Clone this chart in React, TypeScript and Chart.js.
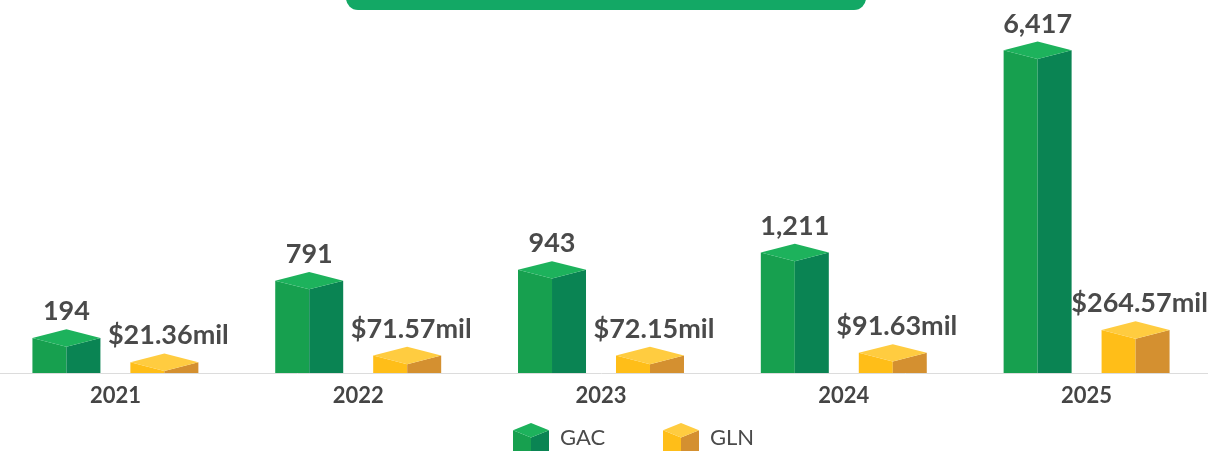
import React, { useEffect, useRef } from "react";
import { Chart, LinearScale, registerables } from "chart.js";

// ---- data ----
const categories = ["2021", "2022", "2023", "2024", "2025"];
const seriesNames = ["GAC", "GLN"];
const gacValues = [194, 791, 943, 1211, 6417];
const glnValues = [21.36, 71.57, 72.15, 91.63, 264.57];

// ---- styles ----
const palettes = [
  { top: "#1db25c", left: "#17a04f", right: "#0a8453" },
  { top: "#ffcc40", left: "#ffbe18", right: "#d49030" },
];
const labelColor = "#4a4a4a";
const fontFamily = "Lato, 'Open Sans', sans-serif";

const formatters = [
  (v: number) => v.toLocaleString("en-US"),
  (v: number) => "$" + v.toFixed(2) + "mil",
];

// Power (v^p) value scale built on top of Chart.js' linear scale
class PowerScale extends LinearScale {
  static id = "power";
  _f(v: number) {
    const p = (this as any).options.exponent ?? 1;
    return Math.sign(v) * Math.pow(Math.abs(v), p);
  }
  getPixelForValue(value: number) {
    if (value === null || value === undefined) return NaN;
    const a = this._f((this as any).min);
    const b = this._f((this as any).max);
    return (this as any).getPixelForDecimal((this._f(value) - a) / (b - a));
  }
  getValueForPixel(pixel: number) {
    const p = (this as any).options.exponent ?? 1;
    const a = this._f((this as any).min);
    const b = this._f((this as any).max);
    const t = a + (this as any).getDecimalForPixel(pixel) * (b - a);
    return Math.sign(t) * Math.pow(Math.abs(t), 1 / p);
  }
}

Chart.register(...registerables);
Chart.register(PowerScale as any);

const gacScaleMin = 20.25;
const glnScaleMin = -60.1;

const cubePlugin = {
  id: "cubes",
  afterDatasetsDraw(chart: any) {
    const ctx = chart.ctx;
    chart.data.datasets.forEach((ds: any, di: number) => {
      const meta = chart.getDatasetMeta(di);
      const pal = palettes[di];
      meta.data.forEach((el: any, i: number) => {
        const { x, y, base, width } = el.getProps(["x", "y", "base", "width"], true);
        const x0 = x - width / 2;
        const x1 = x + width / 2;
        const d = width * 0.128;
        ctx.save();
        // left face
        ctx.fillStyle = pal.left;
        ctx.beginPath();
        ctx.moveTo(x0, y);
        ctx.lineTo(x, y + d);
        ctx.lineTo(x, base);
        ctx.lineTo(x0, base);
        ctx.closePath();
        ctx.fill();
        // right face
        ctx.fillStyle = pal.right;
        ctx.beginPath();
        ctx.moveTo(x, y + d);
        ctx.lineTo(x1, y);
        ctx.lineTo(x1, base);
        ctx.lineTo(x, base);
        ctx.closePath();
        ctx.fill();
        // top face
        ctx.fillStyle = pal.top;
        ctx.beginPath();
        ctx.moveTo(x0, y);
        ctx.lineTo(x, y - d);
        ctx.lineTo(x1, y);
        ctx.lineTo(x, y + d);
        ctx.closePath();
        ctx.fill();
        // value label
        ctx.fillStyle = labelColor;
        ctx.font = `bold 27px ${fontFamily}`;
        ctx.textAlign = "center";
        ctx.textBaseline = "alphabetic";
        ctx.fillText(formatters[di](ds.data[i]), x + di * 4, y - d - 9);
        ctx.restore();
      });
    });
  },
};

function CubeIcon({ pal }: { pal: { top: string; left: string; right: string } }) {
  return (
    <svg width={36} height={28} viewBox="0 0 36 28" style={{ display: "block" }}>
      <polygon points="0,7.3 18,14.6 18,28 0,28" fill={pal.left} />
      <polygon points="18,14.6 36,7.3 36,28 18,28" fill={pal.right} />
      <polygon points="0,7.3 18,0 36,7.3 18,14.6" fill={pal.top} />
    </svg>
  );
}

export default function App() {
  const canvasRef = useRef<HTMLCanvasElement>(null);

  useEffect(() => {
    const chart = new Chart(canvasRef.current!, {
      type: "bar",
      data: {
        labels: categories,
        datasets: [
          {
            label: seriesNames[0],
            data: gacValues,
            yAxisID: "y",
            base: gacScaleMin,
            backgroundColor: "rgba(0,0,0,0)",
            borderWidth: 0,
          },
          {
            label: seriesNames[1],
            data: glnValues,
            yAxisID: "y1",
            base: glnScaleMin,
            backgroundColor: "rgba(0,0,0,0)",
            borderWidth: 0,
          },
        ] as any,
      },
      options: {
        responsive: false,
        maintainAspectRatio: false,
        animation: false,
        layout: { padding: { top: 0, left: 0, right: 0, bottom: 32.6 } },
        datasets: { bar: { categoryPercentage: 0.807, barPercentage: 0.694 } },
        scales: {
          x: {
            grid: { display: false, drawTicks: false },
            border: { display: true, color: "#dcdcdc", width: 1 },
            ticks: {
              padding: 10,
              color: "#454545",
              font: { family: fontFamily, weight: "bold", size: 22 },
            },
          },
          y: { type: "power", exponent: 0.55, min: gacScaleMin, max: 8263, display: false } as any,
          y1: { type: "linear", min: glnScaleMin, max: 2752, display: false },
        },
        plugins: { legend: { display: false }, tooltip: { enabled: false } },
      },
      plugins: [cubePlugin],
    });
    return () => chart.destroy();
  }, []);

  return (
    <div style={{ position: "absolute", left: 0, top: 0, width: 1221, height: 452, overflow: "hidden" }}>
      <div
        style={{
          position: "absolute",
          left: 346,
          top: -40,
          width: 520,
          height: 50,
          borderRadius: 12,
          background: "#13a865",
        }}
      />
      <canvas
        ref={canvasRef}
        width={1214}
        height={452}
        style={{ position: "absolute", left: -6, top: 0, display: "block" }}
      />
      {seriesNames.map((name, i) => (
        <div
          key={name}
          style={{
            position: "absolute",
            left: i === 0 ? 513 : 663,
            top: 423,
            display: "flex",
            alignItems: "center",
            height: 28,
          }}
        >
          <CubeIcon pal={palettes[i]} />
          <span
            style={{
              marginLeft: 11,
              fontFamily,
              fontSize: 22,
              color: labelColor,
              lineHeight: "28px",
            }}
          >
            {name}
          </span>
        </div>
      ))}
    </div>
  );
}
